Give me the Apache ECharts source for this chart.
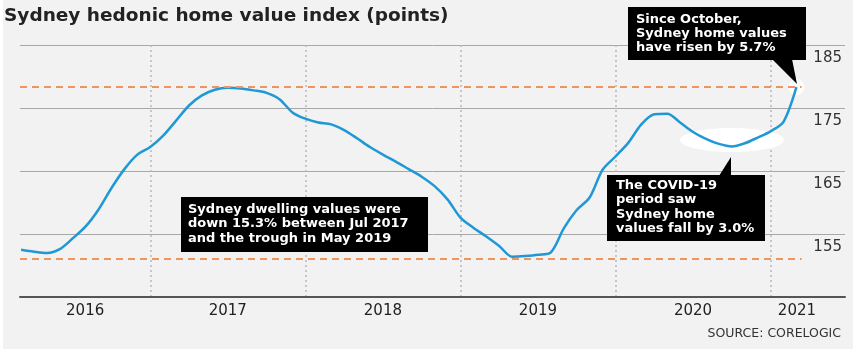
<!DOCTYPE html>
<html>
<head>
<meta charset="utf-8">
<script src="https://cdn.jsdelivr.net/npm/echarts@6/dist/echarts.min.js"></script>
<style>
  html, body { margin: 0; padding: 0; background: #fff; }
  #chart { width: 865px; height: 358px; }
</style>
</head>
<body>
<div id="chart"></div>
<script>
// ---- Data ----
const months = [
  '2016-03','2016-04','2016-05','2016-06','2016-07','2016-08','2016-09','2016-10','2016-11','2016-12',
  '2017-01','2017-02','2017-03','2017-04','2017-05','2017-06','2017-07','2017-08','2017-09','2017-10','2017-11','2017-12',
  '2018-01','2018-02','2018-03','2018-04','2018-05','2018-06','2018-07','2018-08','2018-09','2018-10','2018-11','2018-12',
  '2019-01','2019-02','2019-03','2019-04','2019-05','2019-06','2019-07','2019-08','2019-09','2019-10','2019-11','2019-12',
  '2020-01','2020-02','2020-03','2020-04','2020-05','2020-06','2020-07','2020-08','2020-09','2020-10','2020-11','2020-12',
  '2021-01','2021-02','2021-03'
];
const indexValues = [
  152.5,152.2,152.0,152.6,154.3,156.2,158.9,162.3,165.3,167.6,
  168.8,170.6,173.0,175.4,177.0,177.9,178.2,178.1,177.8,177.4,176.4,174.3,
  173.3,172.7,172.4,171.5,170.2,168.8,167.6,166.5,165.3,164.1,162.6,160.5,
  157.6,156.0,154.6,153.1,151.4,151.5,151.7,152.1,155.9,158.8,160.8,165.2,
  167.3,169.5,172.4,174.0,174.1,172.7,171.2,170.1,169.3,168.9,169.4,170.3,
  171.3,172.8,178.3
];
const refLevels = [178.3, 151.0];             // Jul 2017 peak, May 2019 trough
const yearStarts = [2017, 2018, 2019, 2020, 2021];
const yearLabelAt = [2016.58, 2017.5, 2018.5, 2019.5, 2020.5, 2021.17];
const yTicks = [145, 155, 165, 175, 185];
const yLabels = [155, 165, 175, 185];

const titleText = 'Sydney hedonic home value index (points)';
const note1 = 'Since October,\nSydney home values\nhave risen by 5.7%';
const note2 = 'Sydney dwelling values were\ndown 15.3% between Jul 2017\nand the trough in May 2019';
const note3 = 'The COVID-19\nperiod saw\nSydney home\nvalues fall by 3.0%';
const sourceText = 'SOURCE: CORELOGIC';

// ---- Build ----
const toYear = s => { const [y, m] = s.split('-').map(Number); return y + (m - 1) / 12; };
const lineData = months.map((m, i) => [toYear(m), indexValues[i]]);
const xMin = 2016.16, xMax = 2021.48;
const refEnd = 2021.2;
const last = lineData[lineData.length - 1];

const FONT = '"DejaVu Sans", sans-serif';
const chart = echarts.init(document.getElementById('chart'), null, { renderer: 'canvas' });

chart.setOption({
  animation: false,
  backgroundColor: '#ffffff',
  grid: { left: 20, right: 20, top: 45, bottom: 61 },
  xAxis: {
    type: 'value', min: xMin, max: xMax,
    axisLine: { show: true, lineStyle: { color: '#555', width: 2 } },
    axisTick: { show: false, customValues: yearStarts },
    splitLine: { show: true, lineStyle: { color: '#b8b8b8', width: 1.5, type: [2, 3] } },
    axisLabel: {
      customValues: yearLabelAt,
      formatter: v => String(Math.floor(v)),
      color: '#222', fontSize: 15, fontFamily: FONT, margin: 7
    }
  },
  yAxis: {
    type: 'value', min: 145, max: 185, position: 'right',
    axisLine: { show: false },
    axisTick: { show: false, customValues: yTicks },
    splitLine: { show: true, lineStyle: { color: '#a8a8a8', width: 1 } },
    axisLabel: {
      inside: true, customValues: yLabels,
      verticalAlign: 'top', margin: 3, padding: [6, 0, 0, 0],
      color: '#333', fontSize: 15, fontFamily: FONT
    }
  },
  series: [
    {
      type: 'scatter', z: 1, silent: true,
      data: [last], symbolSize: 16,
      itemStyle: { color: '#ffffff', opacity: 0.95 }
    },
    {
      type: 'line', z: 3, data: lineData, showSymbol: false, smooth: 0.3,
      lineStyle: { color: '#1f98d5', width: 2.5 },
      markLine: {
        silent: true, symbol: ['none', 'none'], label: { show: false },
        lineStyle: { color: '#ee9460', width: 2, type: [7, 5] },
        data: refLevels.map(v => [{ coord: [xMin, v] }, { coord: [refEnd, v] }])
      }
    }
  ],
  graphic: [
    { type: 'rect', z: -10, shape: { x: 3, y: 0, width: 850, height: 349 }, style: { fill: '#f2f2f2' } },
    { type: 'ellipse', z: 1, shape: { cx: 732, cy: 140, rx: 52, ry: 12 }, style: { fill: '#ffffff' } },
    { type: 'text', z: 10, left: 4, top: 7,
      style: { text: titleText, fill: '#222', font: 'bold 18.5px ' + FONT } },
    { type: 'text', z: 10, right: 24, top: 327,
      style: { text: sourceText, fill: '#333', font: '12.5px ' + FONT } },
    // note 1
    { type: 'rect', z: 10, shape: { x: 628, y: 7, width: 178, height: 53 }, style: { fill: '#000' } },
    { type: 'polygon', z: 10, shape: { points: [[772, 59], [792, 59], [797, 84]] }, style: { fill: '#000' } },
    { type: 'text', z: 11, x: 636, y: 13,
      style: { text: note1, fill: '#fff', font: 'bold 13px ' + FONT, lineHeight: 14 } },
    // note 2
    { type: 'rect', z: 10, shape: { x: 181, y: 197, width: 247, height: 55 }, style: { fill: '#000' } },
    { type: 'text', z: 11, x: 188, y: 202,
      style: { text: note2, fill: '#fff', font: 'bold 13px ' + FONT, lineHeight: 14.5 } },
    // note 3
    { type: 'rect', z: 10, shape: { x: 607, y: 175, width: 158, height: 66 }, style: { fill: '#000' } },
    { type: 'polygon', z: 10, shape: { points: [[719, 176], [731, 176], [731, 157]] }, style: { fill: '#000' } },
    { type: 'text', z: 11, x: 616, y: 178,
      style: { text: note3, fill: '#fff', font: 'bold 13px ' + FONT, lineHeight: 14.5 } }
  ]
});
</script>
</body>
</html>
